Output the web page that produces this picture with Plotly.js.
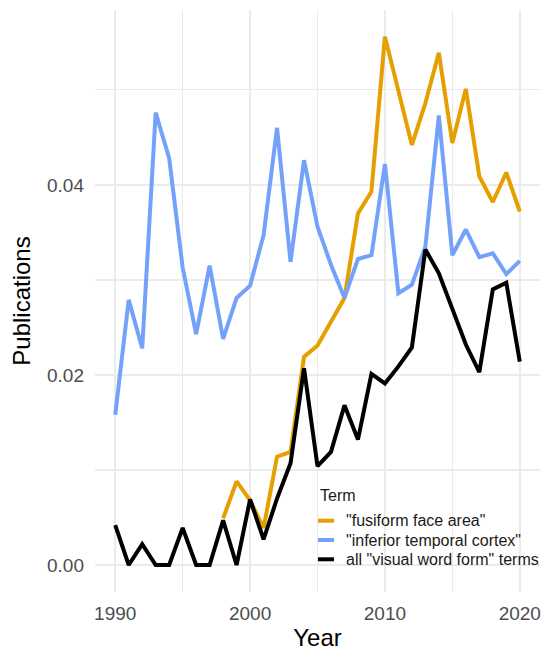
<!DOCTYPE html>
<html>
<head>
<meta charset="utf-8">
<script src="https://cdn.plot.ly/plotly-3.0.1.min.js"></script>
<style>
html,body{margin:0;padding:0;background:#fff;}
#chart{width:543px;height:651px;}
</style>
</head>
<body>
<div id="chart"></div>
<script>
var years = [1990,1991,1992,1993,1994,1995,1996,1997,1998,1999,2000,2001,2002,2003,2004,2005,2006,2007,2008,2009,2010,2011,2012,2013,2014,2015,2016,2017,2018,2019,2020];
var ffaYears = [1998,1999,2000,2001,2002,2003,2004,2005,2006,2007,2008,2009,2010,2011,2012,2013,2014,2015,2016,2017,2018,2019,2020];
var ffaValues = [0.0049,0.0088,0.0068,0.0039,0.0114,0.0119,0.0219,0.0231,0.0256,0.0281,0.0370,0.0393,0.0556,0.0498,0.0442,0.0486,0.0539,0.0444,0.0501,0.0409,0.0382,0.0413,0.0372];
var itcValues = [0.0158,0.0279,0.0228,0.0476,0.0428,0.0313,0.0243,0.0315,0.0238,0.0281,0.0294,0.0347,0.0460,0.0319,0.0426,0.0356,0.0316,0.0281,0.0322,0.0326,0.0422,0.0286,0.0295,0.0335,0.0473,0.0326,0.0353,0.0324,0.0328,0.0306,0.0320];
var vwfValues = [0.0042,0,0.0022,0,0,0.0039,0,0,0.0047,0,0.0069,0.0027,0.0070,0.0107,0.0207,0.0104,0.0119,0.0168,0.0132,0.0201,0.0191,0.0209,0.0229,0.0332,0.0307,0.0268,0.0232,0.0203,0.0290,0.0297,0.0214];
var seriesNames = ['"fusiform face area"', '"inferior temporal cortex"', 'all "visual word form" terms'];
var seriesColors = ['#E69F00', '#74A2FA', '#000000'];
var legendTitle = 'Term';
var xTickVals = [1990,2000,2010,2020];
var xTickText = ['1990','2000','2010','2020'];
var yTickVals = [0,0.02,0.04];
var yTickText = ['0.00','0.02','0.04'];

var font = 'Liberation Sans, Arial, Helvetica, sans-serif';
var traces = [
  {x: ffaYears, y: ffaValues, name: seriesNames[0], type:'scatter', mode:'lines', line:{color:seriesColors[0], width:4}},
  {x: years, y: itcValues, name: seriesNames[1], type:'scatter', mode:'lines', line:{color:seriesColors[1], width:4}},
  {x: years, y: vwfValues, name: seriesNames[2], type:'scatter', mode:'lines', line:{color:seriesColors[2], width:4}}
];

// legend drawn inside the panel (ggplot-style), in paper coordinates
var legX0 = 0.472, legX1 = 1.01, legY0 = 0.048, legY1 = 0.189;
var itemY = [0.1225, 0.0893, 0.0562];
var shapes = [{type:'rect', xref:'paper', yref:'paper', x0:legX0, x1:legX1, y0:legY0, y1:legY1,
  fillcolor:'#ffffff', line:{width:0}, layer:'between'}];
var annotations = [{xref:'paper', yref:'paper', x:0.5011, y:0.165, xanchor:'left', yanchor:'middle',
  text:legendTitle, showarrow:false, font:{family:font, size:16, color:'#1a1a1a'}}];
for (var i = 0; i < seriesNames.length; i++) {
  shapes.push({type:'line', xref:'paper', yref:'paper', x0:0.5011, x1:0.537, y0:itemY[i], y1:itemY[i],
    line:{color:seriesColors[i], width:4}, layer:'above'});
  annotations.push({xref:'paper', yref:'paper', x:0.5596, y:itemY[i], xanchor:'left', yanchor:'middle',
    text:seriesNames[i], showarrow:false, font:{family:font, size:16, color:'#1a1a1a'}});
}

var layout = {
  width:543, height:651,
  margin:{l:95, r:3, t:10, b:59},
  paper_bgcolor:'#fff', plot_bgcolor:'#fff',
  font:{family:font, color:'#4d4d4d'},
  showlegend:false,
  shapes:shapes,
  annotations:annotations,
  xaxis:{
    range:[1988.5, 2021.5],
    tickvals:xTickVals, ticktext:xTickText,
    tickfont:{family:font, size:19, color:'#4d4d4d'},
    ticklabelstandoff:8,
    showgrid:true, gridcolor:'#ebebeb', gridwidth:2,
    minor:{dtick:5, showgrid:true, gridcolor:'#ebebeb', gridwidth:1.3},
    zeroline:false, showline:false, ticks:'',
    title:{text:'Year', font:{family:font, size:24, color:'#000'}, standoff:10}
  },
  yaxis:{
    range:[-0.00284, 0.0584],
    tickvals:yTickVals, ticktext:yTickText,
    tickfont:{family:font, size:19, color:'#4d4d4d'},
    ticklabelstandoff:10,
    showgrid:true, gridcolor:'#ebebeb', gridwidth:2,
    minor:{tickvals:[0.01,0.03,0.05], showgrid:true, gridcolor:'#ebebeb', gridwidth:1.3},
    zeroline:false, showline:false, ticks:'',
    title:{text:'Publications', font:{family:font, size:24, color:'#000'}, standoff:9}
  }
};
Plotly.newPlot('chart', traces, layout, {displayModeBar:false, staticPlot:true});
</script>
</body>
</html>
